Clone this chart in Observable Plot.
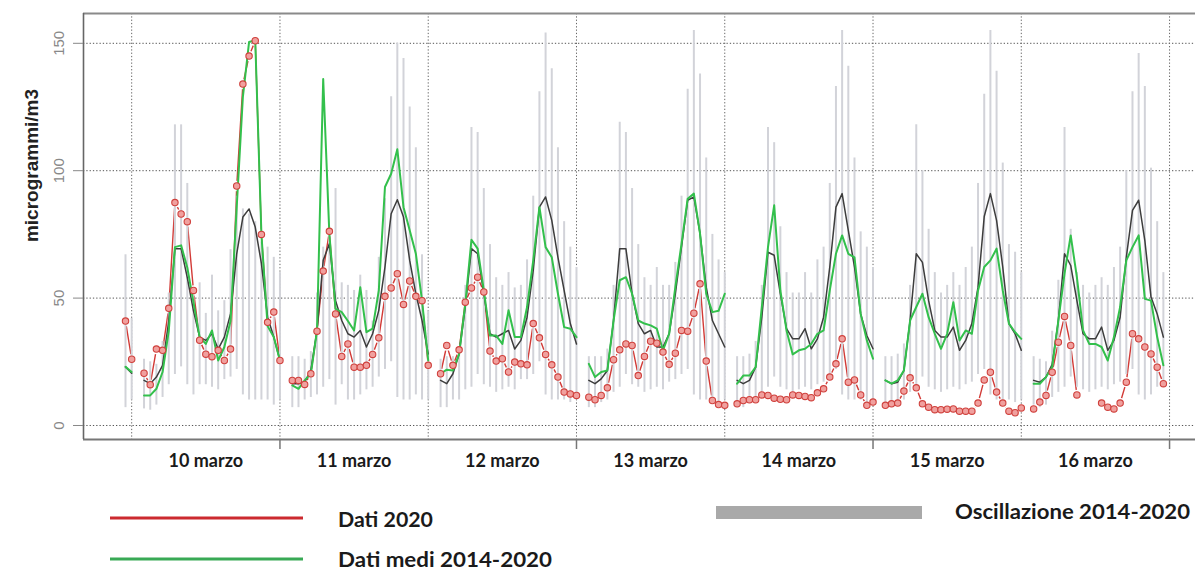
<!DOCTYPE html>
<html>
<head>
<meta charset="utf-8">
<script src="https://cdn.jsdelivr.net/npm/d3@7"></script>
<script src="https://cdn.jsdelivr.net/npm/@observablehq/plot@0.6"></script>
<style>
  body { margin: 0; background: #fff; }
  #wrap { position: relative; width: 1195px; height: 570px; overflow: hidden; background: #fff; }
  #legend { position: absolute; left: 0; top: 480px; }
  #legend text { font-family: Lato, "Open Sans", sans-serif; font-weight: 700; fill: #1a1a1a; }
</style>
</head>
<body>
<div id="wrap"></div>
<script>
// ---- categories ----
const dayLabels = ["9 marzo", "10 marzo", "11 marzo", "12 marzo", "13 marzo", "14 marzo", "15 marzo", "16 marzo"];
const firstHour = [23, 2, 2, 2, 2, 2, 2, 2];   // first hourly slot present for each day
const hoursPerDay = 24;
const yTicks = [0, 50, 100, 150];

// ---- Dati 2020 (red) ----
const dati2020 = [
  [41, 26],
  [20.5, 16, 30, 29.5, 46, 87.5, 83, 80, 53, 33.5, 28, 27, 29.5, 25.5, 30, 94, 134, 145, 151, 75, 40.5, 44.5, 25.5],
  [17.7, 17.7, 16.1, 20.3, 37, 60.6, 76.2, 43.8, 27.1, 32, 22.9, 22.9, 23.6, 27.9, 34.4, 50.7, 54, 59.6, 47.5, 56.7, 50.7, 49, 23.6],
  [20.3, 31.4, 23.6, 29.7, 48.4, 54, 58.2, 52.4, 29.2, 25.3, 26.2, 21, 24.9, 24.2, 23.8, 40, 34.4, 27.9, 23.8, 19, 13.1, 12.4, 11.8],
  [11.1, 10.1, 11.8, 14.8, 25.8, 29.7, 32, 31.4, 19.6, 27.1, 33.1, 32.3, 28.8, 24, 28.4, 37.3, 37, 44.1, 55.6, 25.3, 9.8, 8.2, 7.9],
  [8.5, 9.8, 10.1, 10.1, 12, 11.8, 10.7, 10.3, 10.1, 12, 11.8, 11.4, 10.9, 12.8, 14.4, 19, 24.2, 34, 17, 17.9, 12, 7.9, 9.2],
  [7.9, 8.5, 8.8, 13.5, 18.7, 14.8, 8.5, 7.2, 6.2, 6.2, 6.4, 6.5, 5.6, 5.6, 5.6, 8.8, 17.9, 20.9, 13.1, 8.8, 5.6, 5, 6.9],
  [6.5, 9.2, 11.8, 20.9, 32.7, 42.8, 31.4, 12, null, null, null, 8.8, 7.2, 6.5, 8.8, 17, 36, 34, 30.8, 28.1, 22.9, 16.4]
];

// ---- Dati medi 2014-2020 (green) ----
const datiMedi = [
  [23, 21],
  [11.8, 11.8, 14.4, 21, 37, 70, 70.7, 62, 48.4, 34.7, 32, 37.3, 25.5, 30.8, 41, 85.7, 129, 150.5, 151.2, 75, 39, 34.7, 25.5],
  [15.7, 14.4, 17.7, 20.3, 37.3, 136, 75, 45.8, 44.5, 41, 37.3, 54.3, 36.6, 38, 53, 93.6, 98.8, 108.4, 85.7, 76.6, 67.4, 49, 25.5],
  [20.3, 21.9, 21.6, 28, 47.8, 72.9, 69.4, 53, 35.3, 35.3, 32, 45.2, 34.7, 34.7, 46.5, 64.8, 85.7, 70, 66, 51.7, 38.6, 38, 34.7],
  [24.2, 19, 21, 21.6, 41.2, 57, 58.2, 51.7, 41.2, 40, 39.3, 38, 29.5, 36, 54.3, 71.3, 89, 91, 75.3, 51.7, 44.5, 45, 51.7],
  [16.4, 19.6, 19.6, 22.9, 46.5, 70, 86.4, 53, 37.3, 27.9, 29.5, 30.1, 32, 36, 37.3, 53, 67.4, 74.6, 67.4, 66, 43.8, 33.4, 26.2],
  [17.7, 16.4, 17.7, 21.6, 41.2, 46.5, 51.7, 42.5, 36, 30.1, 36, 48.4, 33.4, 37.3, 36, 53, 62.2, 64.8, 69.4, 53, 40, 36.6, 34],
  [16.4, 16.4, 19, 22.9, 41.2, 59.6, 74.6, 58.2, 37.3, 32, 32, 30.8, 25.5, 34.7, 46.5, 64.8, 70, 74.6, 49.7, 49, 34.7, 23.6]
];

// ---- second reference series (dark line) ----
const datiMediani = [
  [23, 20.5],
  [17.7, 16.4, 19, 23.6, 41, 69.4, 69.4, 58, 45, 34.7, 33.4, 36, 30, 34.7, 43.8, 67.4, 81.8, 85, 77.9, 63.5, 42.5, 34.7, 25.5],
  [16.4, 16.4, 17, 21.6, 37.3, 64.8, 71.3, 49, 41.2, 36, 34.7, 37.3, 30.8, 36, 45.2, 62.2, 83.1, 88.6, 81.8, 64.8, 51.7, 41.2, 28.1],
  [17.7, 16.4, 20.3, 28, 46.5, 69.4, 67.4, 51.7, 36, 34.7, 36, 37.3, 30, 33.4, 42.5, 60.9, 85.7, 89.7, 80.5, 66, 53, 40, 32],
  [17.7, 16.4, 18.3, 21.6, 41.2, 69.4, 69.4, 51.7, 40, 36, 37.3, 30.8, 30.8, 36, 51.7, 70, 88.4, 89.7, 75.3, 54.3, 41.2, 36, 30.8],
  [17.7, 16.4, 17.7, 22.9, 42.5, 68, 66.8, 51.7, 38, 34, 34, 38, 30.1, 34, 42.5, 62.2, 85.7, 91, 76.6, 62.2, 43.8, 35.3, 30.1],
  [17.7, 16.4, 17, 21.6, 41.2, 67.4, 64, 49, 37.3, 34.7, 34.7, 38.6, 29.5, 33.4, 40, 54.3, 82, 91, 80.5, 62.2, 40, 36, 29.5],
  [17.7, 17, 19, 24, 41.2, 67.4, 62.8, 49, 36, 34, 34, 38.6, 29.5, 33.4, 42.5, 66, 84.4, 88.4, 72.6, 50.4, 43.8, 34.7]
];

// ---- Oscillazione 2014-2020 (grey bars: min / max) ----
const oscMin = [
  [7, 10],
  [6.5, 6, 8, 11, 16, 20, 23, 16, 12, 16, 16, 15, 14, 18, 19, 22, 12, 10, 10, 10, 10, 8, 10],
  [7, 7, 10, 11, 12, 15, 18, 8, 16, 10, 10, 12, 14, 15, 19, 22, 25, 11, 10, 10, 12, 10, 10],
  [7, 7, 10, 10, 14, 15, 20, 16, 15, 13, 14, 15, 14, 18, 18, 20, 25, 12, 10, 10, 10, 9, 10],
  [7, 7, 9, 10, 13, 15, 20, 16, 15, 13, 14, 15, 14, 17, 18, 20, 22, 12, 10, 10, 10, 9, 10],
  [7, 7, 9, 10, 13, 15, 19, 15, 14, 13, 14, 15, 14, 16, 17, 20, 22, 12, 10, 10, 10, 9, 10],
  [7, 7, 9, 10, 13, 15, 19, 15, 14, 13, 14, 15, 14, 16, 17, 20, 22, 12, 10, 10, 10, 9, 10],
  [8, 7, 8, 11, 13, 15, 19, 15, 14, 13, 14, 15, 14, 16, 17, 20, 22, 12, 10, 12, 15, 15]
];
const oscMax = [
  [67, 42],
  [26, 25, 24, 33, 52, 118, 118, 95, 54, 56, 44, 59, 45, 49, 69, 90, 85, 83, 80, 72, 70, 66, 60],
  [27, 27, 26, 29, 52, 70, 76, 93, 56, 55, 53, 59, 53, 41, 66, 89, 129, 150, 144, 125, 109, 67, 45],
  [26, 27, 27, 30, 55, 117, 115, 93, 71, 58, 55, 60, 54, 55, 65, 90, 131, 154, 140, 109, 80, 70, 62],
  [27, 27, 27, 30, 55, 119, 115, 93, 71, 58, 55, 62, 55, 55, 64, 90, 132, 155, 138, 105, 75, 65, 60],
  [27, 27, 28, 33, 55, 117, 111, 78, 60, 52, 52, 60, 52, 65, 70, 95, 133, 155, 141, 105, 76, 70, 62],
  [27, 27, 28, 32, 55, 118, 100, 77, 60, 52, 55, 60, 55, 62, 70, 95, 130, 155, 139, 103, 71, 68, 60],
  [27, 26, 25, 37, 57, 117, 77, 60, 55, 52, 55, 58, 55, 62, 70, 100, 131, 146, 133, 101, 80, 60]
];

// ---- build table ----
const rows = [];
dayLabels.forEach((lab, d) => {
  dati2020[d].forEach((v, i) => {
    rows.push({
      x: d * hoursPerDay + firstHour[d] + i,
      day: lab,
      red: v,
      green: datiMedi[d][i],
      dark: datiMediani[d][i],
      low: oscMin[d][i],
      high: oscMax[d][i]
    });
  });
});
const redPts = rows.filter(r => r.red != null);
const dayEnds = dayLabels.map((_, d) => d * hoursPerDay + hoursPerDay);
const axisTicks = dayEnds.filter((v, i) => i % 2 === 1);
const dayCenters = dayLabels.slice(1).map((lab, i) => ({x: (i + 1) * hoursPerDay + hoursPerDay / 2, label: lab}));

const xDomain = [16.2, 196.2];
const yDomain = [-5.5, 161.7];

const chart = Plot.plot({
  width: 1195,
  height: 480,
  marginLeft: 83,
  marginRight: 0,
  marginTop: 13,
  marginBottom: 41,
  style: {fontFamily: "'Liberation Sans', Arial, sans-serif", background: "#fff", overflow: "visible"},
  x: {domain: xDomain, label: null},
  y: {domain: yDomain, label: null},
  marks: [
    // red line (type "b": gaps around points)
    Plot.line(rows, {x: "x", y: "red", z: "day", stroke: "#d23a36", strokeWidth: 1.4}),
    Plot.dot(redPts, {x: "x", y: "red", r: 5.2, fill: "#fff", stroke: null}),
    // grid
    Plot.ruleY(yTicks, {stroke: "#555", strokeWidth: 1, strokeDasharray: "1.3,2"}),
    Plot.ruleX(dayEnds, {stroke: "#666", strokeWidth: 1, strokeDasharray: "1.3,2"}),
    // oscillation bars
    Plot.ruleX(rows, {x: "x", y1: "low", y2: "high", stroke: "#d2d3d9", strokeWidth: 2}),
    // dark line
    Plot.line(rows, {x: "x", y: "dark", z: "day", stroke: "#3d3d3d", strokeWidth: 1.5}),
    // green line
    Plot.line(rows, {x: "x", y: "green", z: "day", stroke: "#33c04c", strokeWidth: 2}),
    // red points
    Plot.dot(redPts, {x: "x", y: "red", r: 3.2, fill: "#f0a09e", stroke: "#d0413d", strokeWidth: 1.1}),
    // box
    Plot.ruleY([yDomain[1]], {stroke: "#8a8a8a", strokeWidth: 2}),
    Plot.ruleY([yDomain[0]], {stroke: "#777", strokeWidth: 2}),
    Plot.ruleX([xDomain[0]], {stroke: "#666", strokeWidth: 1.6}),
    // axes
    Plot.axisY(yTicks, {tickSize: 10, tickPadding: 10, tickRotate: -90, fontSize: 15, color: "#888", label: null}),
    Plot.axisX(axisTicks, {tickSize: 10, tickFormat: () => "", color: "#777", strokeWidth: 1.5, label: null}),
    Plot.text(dayCenters, {x: "x", text: "label", frameAnchor: "bottom", dy: 27, fontSize: 18, fontWeight: "bold", fontFamily: "Lato, 'Open Sans', sans-serif", fill: "#1a1a1a"}),
    Plot.text(["microgrammi/m3"], {frameAnchor: "left", textAnchor: "middle", lineAnchor: "middle", dx: -52, dy: -61, rotate: -90, fontSize: 19, fontWeight: "bold", fill: "#222"})
  ]
});

const wrap = document.getElementById("wrap");
wrap.appendChild(chart);

// legend (below the chart)
const legend = document.createElement("div");
legend.id = "legend";
legend.innerHTML = `
<svg width="1195" height="90" xmlns="http://www.w3.org/2000/svg">
  <line x1="110" x2="303" y1="38" y2="38" stroke="#cc2a2f" stroke-width="3"/>
  <text x="338" y="47" font-size="21" textLength="95" lengthAdjust="spacingAndGlyphs">Dati 2020</text>
  <line x1="110" x2="303" y1="79" y2="79" stroke="#38a955" stroke-width="3"/>
  <text x="338" y="87" font-size="21" textLength="214" lengthAdjust="spacingAndGlyphs">Dati medi 2014-2020</text>
  <rect x="716" y="26" width="206" height="13" fill="#a9a9a9"/>
  <text x="955" y="39" font-size="21" textLength="235" lengthAdjust="spacingAndGlyphs">Oscillazione 2014-2020</text>
</svg>`;
wrap.appendChild(legend);
</script>
</body>
</html>
